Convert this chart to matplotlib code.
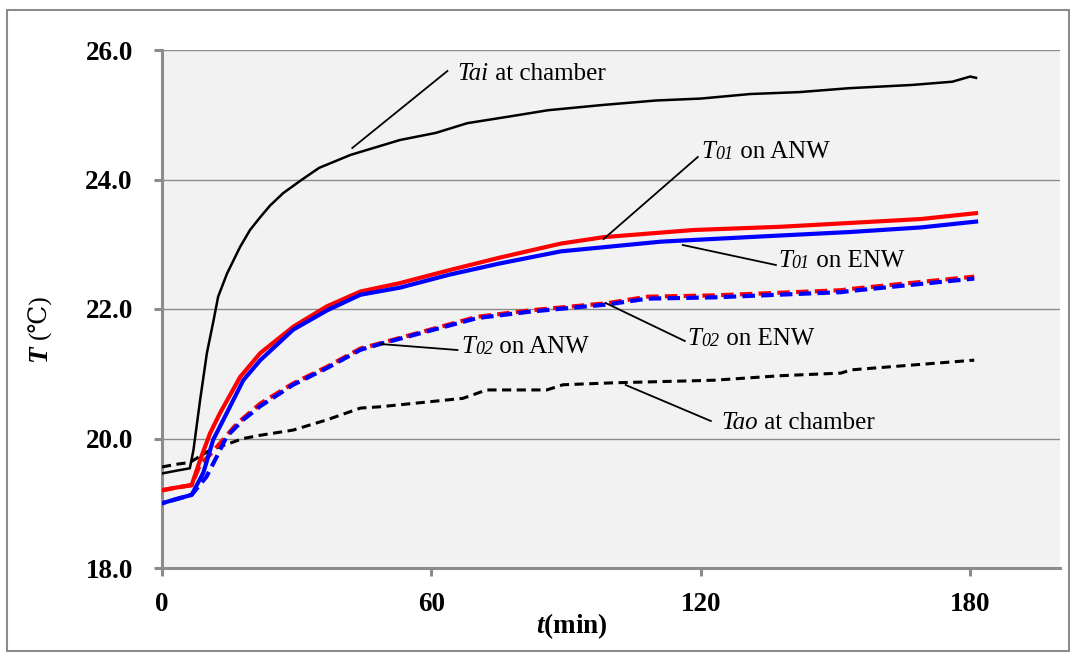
import matplotlib
matplotlib.use("Agg")
import matplotlib.pyplot as plt
from matplotlib.patches import Rectangle

plt.rcParams['font.family'] = ['Liberation Serif', 'DejaVu Serif', 'Noto Sans CJK SC', 'DejaVu Sans']
plt.rcParams['mathtext.fontset'] = 'custom'
plt.rcParams['mathtext.it'] = 'Liberation Serif:italic'
plt.rcParams['mathtext.rm'] = 'Liberation Serif'
plt.rcParams['mathtext.bf'] = 'Liberation Serif:italic:bold'

# ---- data (time in min, temperature in degC) ----
t_tai = [0, 3, 6.2, 7, 8.5, 10, 11.5, 12.5, 14.5, 17.4, 19.6, 21.9, 24.1, 27, 31, 35, 42, 53, 61, 68, 78, 86, 98, 110, 120, 131, 142, 153, 167, 176, 180, 181.3]
tai   = [19.46, 19.5, 19.54, 19.82, 20.6, 21.32, 21.83, 22.19, 22.55, 22.96, 23.22, 23.42, 23.6, 23.79, 23.99, 24.18, 24.38, 24.61, 24.72, 24.87, 24.98, 25.07, 25.15, 25.22, 25.25, 25.32, 25.35, 25.41, 25.46, 25.51, 25.59, 25.57]

t_t01a = [0, 3, 6.6, 8.5, 10.7, 12.9, 17.4, 21.9, 29.3, 36.7, 44.2, 53, 64, 75, 88.8, 98.4, 118.4, 137.8, 153.5, 169.1, 181.3]
t01a   = [19.2, 19.24, 19.28, 19.67, 20.08, 20.39, 20.95, 21.32, 21.73, 22.04, 22.27, 22.4, 22.6, 22.79, 23.01, 23.11, 23.22, 23.27, 23.33, 23.39, 23.48]

t_t01e = [0, 3, 6.6, 9.2, 11.4, 14.4, 18.1, 21.9, 29.2, 36.8, 44.2, 53, 64, 75, 88.8, 111.1, 133.4, 153.5, 169.1, 181.3]
t01e   = [19.0, 19.06, 19.13, 19.47, 19.98, 20.39, 20.9, 21.21, 21.68, 21.98, 22.22, 22.33, 22.53, 22.7, 22.89, 23.04, 23.12, 23.19, 23.26, 23.35]

t_t02a = [0, 3, 6.6, 8.5, 10.7, 12.2, 16.7, 21.9, 29.2, 36.8, 44.2, 48.6, 70.2, 82.1, 99.2, 108.1, 123, 151.2, 153.5, 180.9]
t02a   = [19.2, 19.24, 19.28, 19.6, 19.75, 19.87, 20.23, 20.54, 20.85, 21.11, 21.39, 21.47, 21.88, 21.98, 22.09, 22.19, 22.21, 22.29, 22.31, 22.5]

t_t02e = [0, 3, 6.6, 9.9, 12.2, 14.4, 18.1, 21.9, 29.2, 36.8, 44.2, 48.6, 70.2, 82.1, 99.2, 108.1, 123, 151.2, 153.5, 180.9]
t02e   = [19.0, 19.06, 19.13, 19.41, 19.72, 20.03, 20.29, 20.5, 20.83, 21.09, 21.37, 21.46, 21.86, 21.96, 22.07, 22.16, 22.18, 22.26, 22.28, 22.47]

t_tao = [0, 3, 6.2, 10.7, 18.1, 21.9, 29.2, 36.8, 44.2, 48.6, 67, 72.3, 85.7, 89.3, 100.5, 123, 137.8, 151.2, 153.5, 180.9]
tao   = [19.56, 19.6, 19.63, 19.82, 20.0, 20.05, 20.13, 20.29, 20.47, 20.49, 20.62, 20.75, 20.75, 20.83, 20.86, 20.9, 20.97, 21.01, 21.06, 21.21]

x_ticks = [0, 60, 120, 180]
y_ticks = [18.0, 20.0, 22.0, 24.0, 26.0]

# ---- figure ----
fig = plt.figure(figsize=(10.76, 6.58), dpi=100)
W, H = 1076, 658
ax = fig.add_axes([162 / W, 1 - 568 / H, (1060 - 162) / W, (568 - 50) / H])
ax.set_facecolor('#f2f2f2')
ax.set_xlim(0, 200)
ax.set_ylim(18, 26)

grid_c = '#8c8c8c'
for yv in y_ticks[1:]:
    ax.axhline(yv, color=grid_c, lw=1.0, zorder=1)

ax.plot(t_tao, tao, color='black', lw=2.2, ls=(0, (3, 1.8)), zorder=3)
ax.plot(t_t02a, t02a, color='#ff0000', lw=3.0, ls=(0, (3.0, 1.5)), zorder=3)
ax.plot(t_t02e, t02e, color='#0000ff', lw=3.0, ls=(2.2, (3.0, 1.5)), zorder=3)
ax.plot(t_t01a, t01a, color='#ff0000', lw=3.0, zorder=4)
ax.plot(t_t01e, t01e, color='#0000ff', lw=3.0, zorder=4)
ax.plot(t_tai, tai, color='black', lw=1.8, zorder=5)

for s in ['top', 'right']:
    ax.spines[s].set_visible(False)
for s in ['left', 'bottom']:
    ax.spines[s].set_color(grid_c)
    ax.spines[s].set_linewidth(2.2)

ax.set_xticks(x_ticks)
ax.set_xticklabels([str(v) for v in x_ticks])
ax.set_yticks(y_ticks)
ax.set_yticklabels([f"{v:.1f}" for v in y_ticks])
ax.tick_params(axis='both', direction='out', length=6, width=2.2, color=grid_c,
               labelsize=19.5)
ax.tick_params(axis='y', pad=15)
ax.tick_params(axis='x', pad=11)
for lab in ax.get_xticklabels() + ax.get_yticklabels():
    lab.set_fontweight('bold')

# x label: t (bold italic) + (min) (bold)
fig.text(572 / W, 1 - 626 / H, r"$\mathbf{t}$(min)", fontsize=19.5,
         fontweight='bold', ha='center', va='center')

# y label: T (bold italic) + (℃)
fig.text(40 / W, 1 - 354 / H, "T", fontsize=19.5, fontweight='bold',
         fontstyle='italic', rotation=90, ha='center', va='center')
fig.text(40 / W, 1 - 317 / H, "(℃)", fontsize=18, fontweight='normal',
         rotation=90, ha='center', va='center')

# ---- annotations ----
def px2data(px, py):
    return ((px - 162) * 60 / 269, 26 - (py - 50) / 64.75)

FS = 18
annots = [
    ([("Tai", 'italic', 1.0), (" at chamber", 'normal', 1.0)], (352, 148), (447, 71), (457, 80)),
    ([("T", 'italic', 1.0), ("01", 'italic', 0.72), (" on ANW", 'normal', 1.0)], (603, 239), (697, 157), (701, 158)),
    ([("T", 'italic', 1.0), ("01", 'italic', 0.72), (" on ENW", 'normal', 1.0)], (682, 245), (775, 265), (777, 267)),
    ([("T", 'italic', 1.0), ("02", 'italic', 0.72), (" on ENW", 'normal', 1.0)], (605, 303), (684, 341), (687, 345)),
    ([("T", 'italic', 1.0), ("02", 'italic', 0.72), (" on ANW", 'normal', 1.0)], (380, 344), (457, 350), (461, 353)),
    ([("Tao", 'italic', 1.0), (" at chamber", 'normal', 1.0)], (625, 385), (710, 421), (721, 429)),
]
for pieces, p0, p1, ptxt in annots:
    x0, y0 = px2data(*p0)
    x1, y1 = px2data(*p1)
    ax.plot([x0, x1], [y0, y1], color='black', lw=1.3, zorder=6)
    xt, yt = px2data(*ptxt)
    prev = None
    for s, style, scale in pieces:
        if prev is None:
            prev = ax.text(xt, yt, s, fontsize=FS * scale, fontstyle=style,
                           ha='left', va='baseline', zorder=7)
        else:
            prev = ax.annotate(s, xy=(1, 0), xycoords=prev, fontsize=FS * scale,
                               fontstyle=style, ha='left', va='bottom', zorder=7)

# figure border
fig.patches.append(Rectangle((7 / W, 1 - 651 / H), (1069 - 7) / W, (651 - 10) / H,
                             transform=fig.transFigure, fill=False,
                             edgecolor='#8c8c8c', lw=1.5))

fig.savefig('out.png', dpi=100)
